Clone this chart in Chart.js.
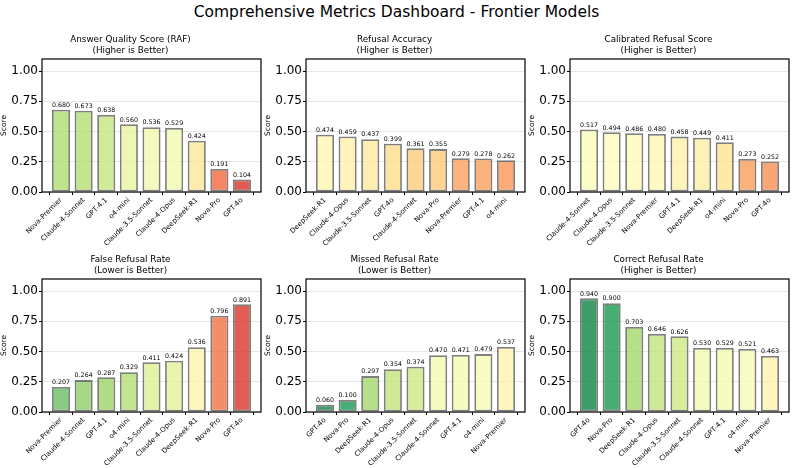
<!DOCTYPE html>
<html>
<head>
<meta charset="utf-8">
<script src="https://cdn.jsdelivr.net/npm/chart.js@4.4.0/dist/chart.umd.min.js"></script>
<style>
  body { margin: 0; background: #fff; width: 793px; height: 468px; position: relative; overflow: hidden; font-family: "DejaVu Sans", sans-serif; }
  #mainTitle { position: absolute; left: 0; top: 3px; width: 793px; text-align: center; font-size: 15.5px; color: #000; }
  canvas { position: absolute; }
</style>
</head>
<body>
<div id="mainTitle">Comprehensive Metrics Dashboard - Frontier Models</div>
<canvas id="c0" width="265" height="221" style="left:0px;top:27px"></canvas>
<canvas id="c1" width="265" height="221" style="left:264px;top:27px"></canvas>
<canvas id="c2" width="265" height="221" style="left:528px;top:27px"></canvas>
<canvas id="c3" width="265" height="221" style="left:0px;top:247px"></canvas>
<canvas id="c4" width="265" height="221" style="left:264px;top:247px"></canvas>
<canvas id="c5" width="265" height="221" style="left:528px;top:247px"></canvas>
<script>
// Data
const rafModels = ['Nova-Premier', 'Claude-4-Sonnet', 'GPT-4.1', 'o4-mini', 'Claude-3.5-Sonnet', 'Claude-4-Opus', 'DeepSeek-R1', 'Nova-Pro', 'GPT-4o'];
const rafScores = [0.680, 0.673, 0.638, 0.560, 0.536, 0.529, 0.424, 0.191, 0.104];

const refAccModels = ['DeepSeek-R1', 'Claude-4-Opus', 'Claude-3.5-Sonnet', 'GPT-4o', 'Claude-4-Sonnet', 'Nova-Pro', 'Nova-Premier', 'GPT-4.1', 'o4-mini'];
const refAccScores = [0.474, 0.459, 0.437, 0.399, 0.361, 0.355, 0.279, 0.278, 0.262];

const calibModels = ['Claude-4-Sonnet', 'Claude-4-Opus', 'Claude-3.5-Sonnet', 'Nova-Premier', 'GPT-4.1', 'DeepSeek-R1', 'o4-mini', 'Nova-Pro', 'GPT-4o'];
const calibScores = [0.517, 0.494, 0.486, 0.480, 0.458, 0.449, 0.411, 0.273, 0.252];

const falseRefModels = ['Nova-Premier', 'Claude-4-Sonnet', 'GPT-4.1', 'o4-mini', 'Claude-3.5-Sonnet', 'Claude-4-Opus', 'DeepSeek-R1', 'Nova-Pro', 'GPT-4o'];
const falseRefScores = [0.207, 0.264, 0.287, 0.329, 0.411, 0.424, 0.536, 0.796, 0.891];

const missedRefModels = ['GPT-4o', 'Nova-Pro', 'DeepSeek-R1', 'Claude-4-Opus', 'Claude-3.5-Sonnet', 'Claude-4-Sonnet', 'GPT-4.1', 'o4-mini', 'Nova-Premier'];
const missedRefScores = [0.060, 0.100, 0.297, 0.354, 0.374, 0.470, 0.471, 0.479, 0.537];

const correctRefModels = ['GPT-4o', 'Nova-Pro', 'DeepSeek-R1', 'Claude-4-Opus', 'Claude-3.5-Sonnet', 'Claude-4-Sonnet', 'GPT-4.1', 'o4-mini', 'Nova-Premier'];
const correctRefScores = [0.940, 0.900, 0.703, 0.646, 0.626, 0.530, 0.529, 0.521, 0.463];

const yTicks = [0, 0.25, 0.5, 0.75, 1.0];

const panels = [
  { title: ['Answer Quality Score (RAF)', '(Higher is Better)'], labels: rafModels, values: rafScores, higherBetter: true },
  { title: ['Refusal Accuracy', '(Higher is Better)'], labels: refAccModels, values: refAccScores, higherBetter: true },
  { title: ['Calibrated Refusal Score', '(Higher is Better)'], labels: calibModels, values: calibScores, higherBetter: true },
  { title: ['False Refusal Rate', '(Lower is Better)'], labels: falseRefModels, values: falseRefScores, higherBetter: false },
  { title: ['Missed Refusal Rate', '(Lower is Better)'], labels: missedRefModels, values: missedRefScores, higherBetter: false },
  { title: ['Correct Refusal Rate', '(Higher is Better)'], labels: correctRefModels, values: correctRefScores, higherBetter: true }
];

// RdYlGn colormap stops
const rdYlGn = ['#a50026', '#d73027', '#f46d43', '#fdae61', '#fee08b', '#ffffbf', '#d9ef8b', '#a6d96a', '#66bd63', '#1a9850', '#006837'];

function hexToRgb(h) {
  return [parseInt(h.slice(1, 3), 16), parseInt(h.slice(3, 5), 16), parseInt(h.slice(5, 7), 16)];
}

function cmap(t) {
  t = Math.max(0, Math.min(1, t));
  const pos = t * (rdYlGn.length - 1);
  const i = Math.min(Math.floor(pos), rdYlGn.length - 2);
  const f = pos - i;
  const a = hexToRgb(rdYlGn[i]), b = hexToRgb(rdYlGn[i + 1]);
  const c = a.map((v, k) => Math.round(v + (b[k] - v) * f));
  return `rgba(${c[0]},${c[1]},${c[2]},0.8)`;
}

const font = 'DejaVu Sans';

// frame around plot area + value labels on top of bars
const framePlugin = {
  id: 'frame',
  afterDatasetsDraw(chart) {
    const ctx = chart.ctx;
    const yScale = chart.scales.y;
    const meta = chart.getDatasetMeta(0);
    const points = chart.data.datasets[0].data;
    ctx.save();
    ctx.fillStyle = '#000';
    ctx.font = `6.3px "${font}"`;
    ctx.textAlign = 'center';
    ctx.textBaseline = 'bottom';
    meta.data.forEach((bar, i) => {
      const v = points[i].y;
      ctx.fillText(v.toFixed(3), bar.x, yScale.getPixelForValue(v + 0.01));
    });
    ctx.restore();
  },
  afterDraw(chart) {
    const a = chart.chartArea;
    const ctx = chart.ctx;
    ctx.save();
    ctx.strokeStyle = '#000';
    ctx.lineWidth = 1.2;
    ctx.strokeRect(a.left, a.top, a.right - a.left, a.bottom - a.top);
    ctx.restore();
  }
};

panels.forEach((p, idx) => {
  const ctx = document.getElementById('c' + idx).getContext('2d');
  const n = p.labels.length;
  new Chart(ctx, {
    type: 'bar',
    data: {
      datasets: [{
        data: p.values.map((v, i) => ({ x: i, y: v })),
        backgroundColor: p.values.map(v => cmap(p.higherBetter ? v : 1 - v)),
        borderColor: 'rgba(0,0,0,0.5)',
        borderWidth: 1.8,
        borderSkipped: false,
        categoryPercentage: 1.0,
        barPercentage: 0.8
      }]
    },
    options: {
      responsive: false,
      animation: false,
      devicePixelRatio: 1,
      layout: { padding: { left: 0, right: 4, top: 0, bottom: 0 } },
      plugins: {
        legend: { display: false },
        tooltip: { enabled: false },
        title: {
          display: true,
          text: p.title,
          color: '#000',
          font: { family: font, size: 8.8, weight: 'normal', lineHeight: 1.25 },
          padding: { top: 7.5, bottom: 2.5 }
        }
      },
      scales: {
        x: {
          type: 'linear',
          offset: false,
          min: -0.84,
          max: n - 1 + 0.84,
          afterBuildTicks(s) { s.ticks = p.labels.map((l, i) => ({ value: i })); },
          grid: { display: true, drawOnChartArea: false, drawTicks: true, tickLength: 3, color: '#000' },
          border: { display: false },
          ticks: {
            color: '#000',
            font: { family: font, size: 7 },
            minRotation: 45,
            maxRotation: 45,
            autoSkip: false,
            padding: 1,
            callback: v => p.labels[v]
          },
          afterFit(s) { s.height = 56; }
        },
        y: {
          min: 0,
          max: 1.1,
          afterBuildTicks(s) { s.ticks = yTicks.map(v => ({ value: v })); },
          grid: { color: 'rgba(176,176,176,0.3)', tickColor: '#000', tickLength: 3, drawTicks: true },
          border: { display: false },
          ticks: {
            color: '#000',
            font: { family: font, size: 12 },
            padding: 1,
            callback: v => Number(v).toFixed(2)
          },
          title: {
            display: true,
            text: 'Score',
            color: '#000',
            font: { family: font, size: 7.5 },
            padding: { top: 0, bottom: 0 }
          },
          afterFit(s) { s.width = 42; }
        }
      }
    },
    plugins: [framePlugin]
  });
});
</script>
</body>
</html>
